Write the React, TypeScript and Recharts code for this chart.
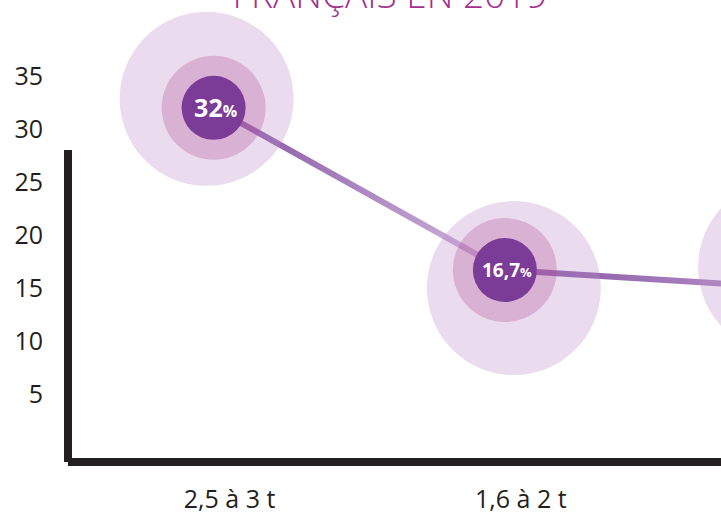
import { LineChart, Line, XAxis, YAxis } from "recharts";

const TITLE = "FRANÇAIS EN 2019";
const CATEGORIES = ["2,5 à 3 t", "1,6 à 2 t", "1 à 1,5 t"];
const SHARES = [32, 16.7, 15];
const Y_TICKS = [5, 10, 15, 20, 25, 30, 35];
// only the first two category labels fall inside the frame
const X_TICKS = [0, 1];

const data = CATEGORIES.map((name, i) => ({ idx: i, name, share: SHARES[i] }));

// outer halo is not centred on the point in the original artwork
const HALO_SHIFT = [
  [-7, -9],
  [9, 18],
  [-11, -21],
];

const FONT = "'Open Sans', 'DejaVu Sans', sans-serif";
const INK = "#231f20";
const VIEW_W = 721;

const fmt = (v: number) => String(v).replace(".", ",");

function Bubble(props: any) {
  const { cx, cy, index, payload } = props;
  if (cx == null || cy == null) return null;
  const [hx, hy] = HALO_SHIFT[index] ?? [0, 0];
  const label = fmt(payload.share);
  const big = label.length <= 2;
  return (
    <g key={`bubble-${index}`}>
      <circle cx={cx + hx} cy={cy + hy} r={87} fill="#b98bc6" fillOpacity={0.3} />
      <circle cx={cx} cy={cy} r={52} fill="#af5096" fillOpacity={0.3} />
      <circle cx={cx} cy={cy} r={32} fill="#7b3c97" />
      {cx + 40 < VIEW_W && (
        <text
          x={cx + 2}
          y={cy}
          dy="0.35em"
          textAnchor="middle"
          fill="#fff"
          fontFamily={FONT}
          fontWeight={700}
          fontSize={big ? 25 : 19}
        >
          {label}
          <tspan fontSize={big ? 16 : 13}>%</tspan>
        </text>
      )}
    </g>
  );
}

export default function App() {
  return (
    <div
      style={{
        position: "absolute",
        left: 0,
        top: 0,
        width: VIEW_W,
        height: 514,
        overflow: "hidden",
        background: "#fff",
      }}
    >
      <LineChart
        width={1000}
        height={514}
        data={data}
        margin={{ top: 76, right: 0, bottom: 0, left: 0 }}
      >
        <defs>
          <linearGradient id="trend" x1="0" y1="0" x2="1" y2="0">
            <stop offset="0" stopColor="#8450a2" />
            <stop offset="0.45" stopColor="#cbb0d8" />
            <stop offset="0.5" stopColor="#8352a2" />
            <stop offset="1" stopColor="#b997ca" />
          </linearGradient>
        </defs>
        <XAxis
          type="number"
          dataKey="idx"
          domain={[-0.5, 2.7]}
          ticks={X_TICKS}
          tickFormatter={(v: number) => CATEGORIES[v] ?? ""}
          height={52}
          tickLine={false}
          tickSize={0}
          tickMargin={28}
          axisLine={{ stroke: INK, strokeWidth: 8 }}
          tick={{ fontSize: 25, fill: INK, fontFamily: FONT, dx: 16 }}
        />
        <YAxis
          type="number"
          domain={[-1.4, 35]}
          ticks={Y_TICKS}
          width={68}
          tickLine={false}
          tickSize={0}
          tickMargin={25}
          axisLine={{ stroke: INK, strokeWidth: 8, strokeDasharray: "0 74 1000" }}
          tick={{ fontSize: 25, fill: INK, fontFamily: FONT }}
        />
        <Line
          type="linear"
          dataKey="share"
          stroke="url(#trend)"
          strokeWidth={6}
          dot={(p: any) => <Bubble {...p} />}
          activeDot={false}
          isAnimationActive={false}
        />
      </LineChart>
      <svg
        width={VIEW_W}
        height={40}
        style={{ position: "absolute", left: 0, top: 0, pointerEvents: "none" }}
      >
        <text
          x={390}
          y={8}
          textAnchor="middle"
          fill="#a2308f"
          fontFamily={FONT}
          fontWeight={300}
          fontSize={37}
        >
          {TITLE}
        </text>
      </svg>
    </div>
  );
}
